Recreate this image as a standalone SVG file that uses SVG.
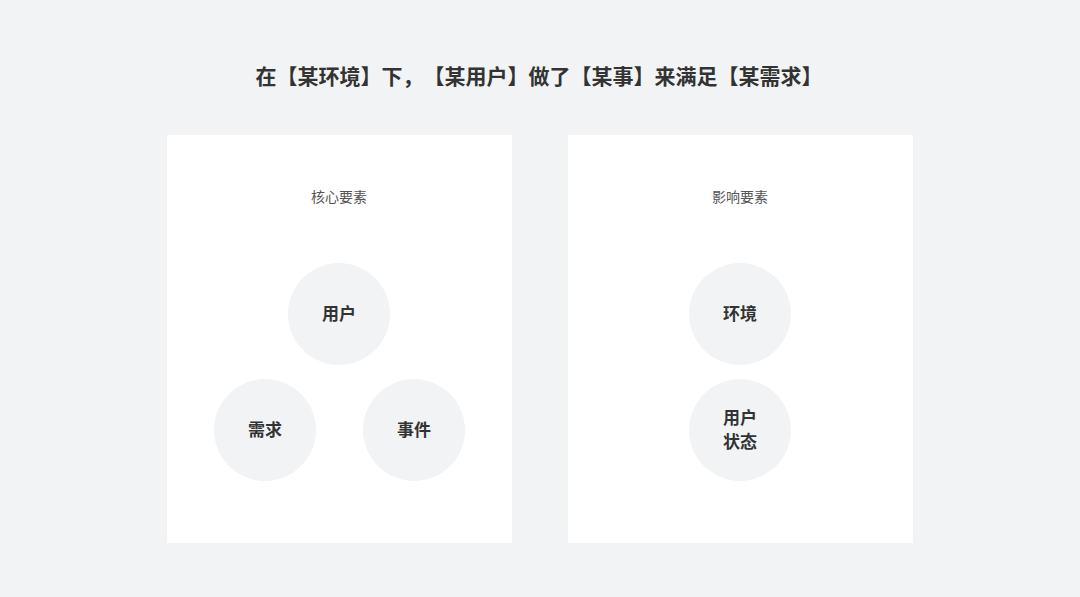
<svg xmlns="http://www.w3.org/2000/svg" width="1080" height="597" viewBox="0 0 1080 597">
<style>
.t{font-family:"Noto Sans CJK SC","Noto Sans",sans-serif;text-anchor:middle;text-spacing-trim:space-all;font-kerning:none}
.title{font-size:21px;font-weight:700;fill:#333}
.sub{font-size:14px;fill:#555}
.lbl{font-size:17px;font-weight:700;fill:#333}
.panel{fill:#fff}
.c{fill:#f2f3f5}
</style>
<rect width="1080" height="597" fill="#f2f3f5"/>
<text class="t title" x="539" y="84">在【某环境】下，【某用户】做了【某事】来满足【某需求】</text>
<g id="panel-core">
<rect class="panel" x="167" y="135" width="345" height="408"/>
<text class="t sub" x="339" y="202">核心要素</text>
</g>
<g id="node-user">
<circle class="c" cx="339" cy="314" r="51"/>
<text class="t lbl" x="339" y="320">用户</text>
</g>
<g id="node-need">
<circle class="c" cx="265" cy="430" r="51"/>
<text class="t lbl" x="265" y="436">需求</text>
</g>
<g id="node-event">
<circle class="c" cx="414" cy="430" r="51"/>
<text class="t lbl" x="414" y="436">事件</text>
</g>
<g id="panel-influence">
<rect class="panel" x="568" y="135" width="345" height="408"/>
<text class="t sub" x="740" y="202">影响要素</text>
</g>
<g id="node-env">
<circle class="c" cx="740" cy="314" r="51"/>
<text class="t lbl" x="740" y="320">环境</text>
</g>
<g id="node-state">
<circle class="c" cx="740" cy="430" r="51"/>
<text class="t lbl" x="740" y="424">用户</text>
<text class="t lbl" x="740" y="448">状态</text>
</g>
<g id="connectors"></g>
</svg>
